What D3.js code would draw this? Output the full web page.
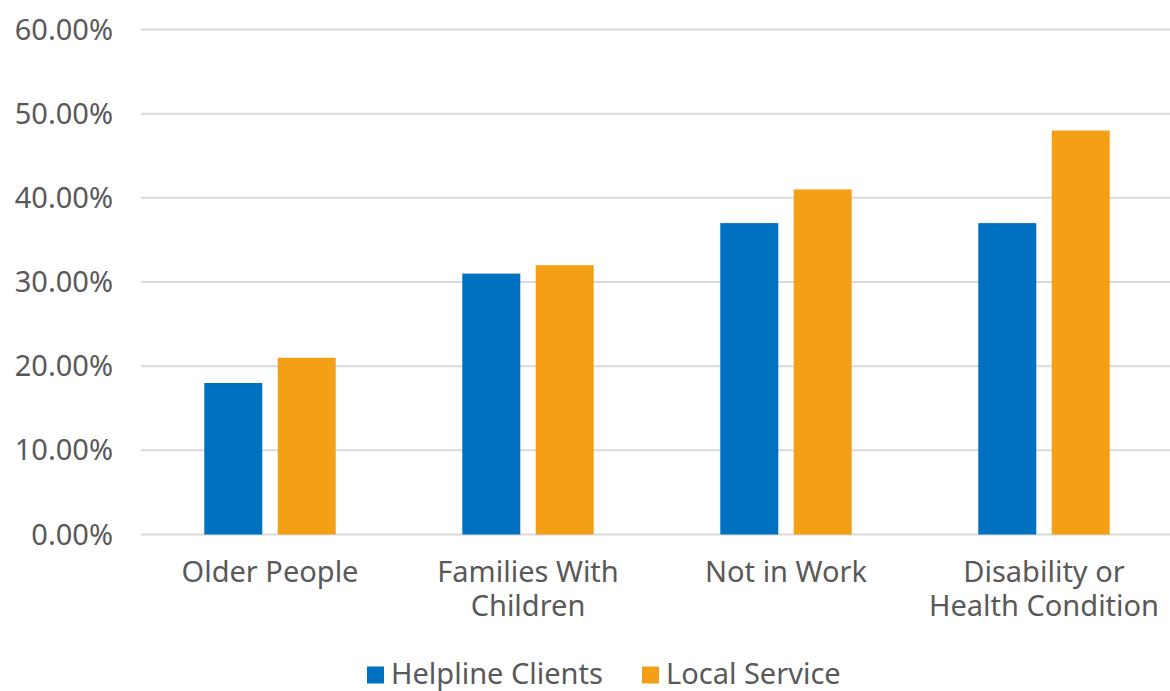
<!DOCTYPE html>
<html>
<head>
<meta charset="utf-8">
<script src="https://cdn.jsdelivr.net/npm/d3@7"></script>
<style>
  body { margin: 0; background: #fff; }
  svg text { font-family: "Noto Sans", "Open Sans", sans-serif; fill: #595959; }
</style>
</head>
<body>
<svg id="chart" width="1170" height="691"></svg>
<script>
// chart data
const categories = [
  ["Older People"],
  ["Families With", "Children"],
  ["Not in Work"],
  ["Disability or", "Health Condition"]
];
const seriesNames = ["Helpline Clients", "Local Service"];
const helplineClients = [0.18, 0.31, 0.37, 0.37];
const localService = [0.21, 0.32, 0.41, 0.48];
const yTicks = [0, 0.1, 0.2, 0.3, 0.4, 0.5, 0.6];
const colors = ["#0070c0", "#f4a017"];

const width = 1170, height = 691;
const svg = d3.select("#chart");
const catKeys = categories.map(c => c.join(" "));
const values = [helplineClients, localService];

const x0 = d3.scaleBand().domain(catKeys).range([141, 1173]);
const x1 = d3.scaleBand().domain(seriesNames)
  .range([0, x0.bandwidth()])
  .paddingInner(0.21)
  .paddingOuter(0.862);
const y = d3.scaleLinear().domain([0, 0.6]).range([534.5, 29.5]);

// gridlines
svg.append("g")
  .selectAll("line")
  .data(yTicks)
  .join("line")
  .attr("x1", 141)
  .attr("x2", width)
  .attr("y1", d => y(d))
  .attr("y2", d => y(d))
  .attr("stroke", "#d9d9d9")
  .attr("stroke-width", 2);

// y labels
svg.append("g")
  .selectAll("text")
  .data(yTicks)
  .join("text")
  .attr("x", 113)
  .attr("y", d => y(d))
  .attr("dy", "0.35em")
  .attr("text-anchor", "end")
  .style("font-size", "29px")
  .text(d => d3.format(".2%")(d));

// bars
const groups = svg.append("g")
  .selectAll("g")
  .data(catKeys)
  .join("g")
  .attr("transform", d => `translate(${x0(d)},0)`);

groups.selectAll("rect")
  .data((d, i) => seriesNames.map((s, j) => ({ s, v: values[j][i], j })))
  .join("rect")
  .attr("x", d => x1(d.s))
  .attr("width", x1.bandwidth())
  .attr("y", d => y(d.v))
  .attr("height", d => y(0) - y(d.v))
  .attr("fill", d => colors[d.j]);

// category labels
const catLabels = svg.append("g")
  .selectAll("text")
  .data(categories)
  .join("text")
  .attr("text-anchor", "middle")
  .attr("transform", (d, i) => `translate(${x0(catKeys[i]) + x0.bandwidth() / 2},572)`)
  .style("font-size", "29px");
catLabels.selectAll("tspan")
  .data(d => d)
  .join("tspan")
  .attr("x", 0)
  .attr("y", (d, i) => i * 34)
  .attr("dy", "0.35em")
  .text(d => d);

// legend
const legendX = [367, 642];
const legend = svg.append("g")
  .selectAll("g")
  .data(seriesNames)
  .join("g")
  .attr("transform", (d, i) => `translate(${legendX[i]},674)`);
legend.append("rect")
  .attr("x", 0)
  .attr("y", -7.5)
  .attr("width", 17)
  .attr("height", 17)
  .attr("fill", (d, i) => colors[i]);
legend.append("text")
  .attr("x", 24)
  .attr("dy", "0.35em")
  .style("font-size", "29px")
  .text(d => d);
</script>
</body>
</html>
